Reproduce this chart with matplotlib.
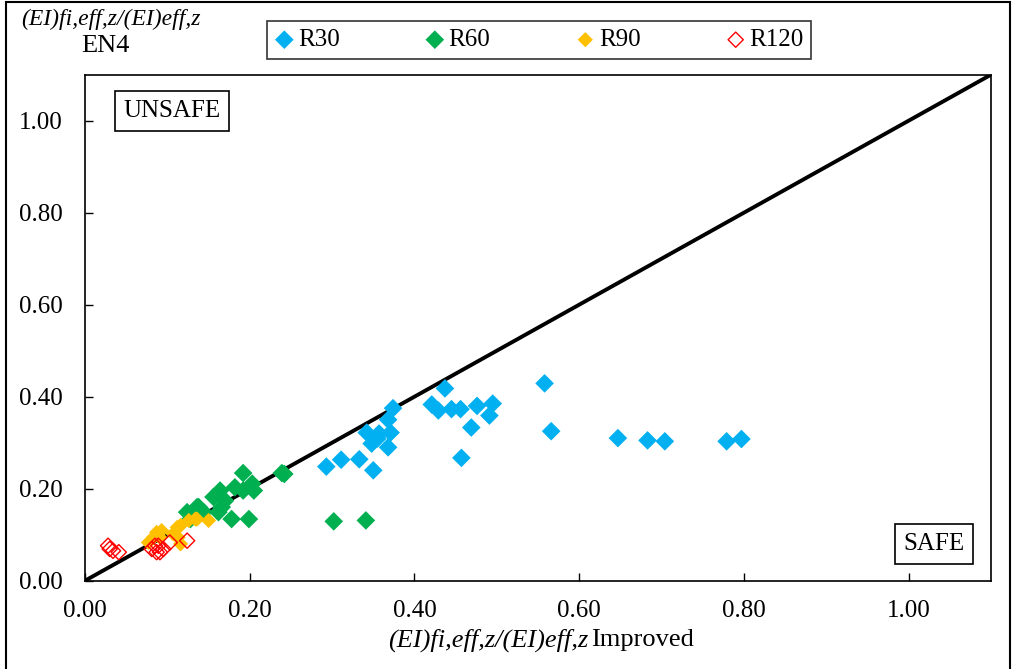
import numpy as np
import matplotlib
matplotlib.use("Agg")
import matplotlib.pyplot as plt
from matplotlib.patches import Rectangle

plt.rcParams['font.family'] = ['Liberation Serif', 'DejaVu Serif']

# R30 points (improved ratio, EN4 ratio)
r30_x = [0.437, 0.374, 0.421, 0.429, 0.445, 0.456, 0.476, 0.495, 0.491, 0.469,
         0.457, 0.558, 0.566, 0.368, 0.342, 0.357, 0.371, 0.355, 0.348, 0.368,
         0.293, 0.311, 0.333, 0.350, 0.647, 0.683, 0.704, 0.779, 0.797]
r30_y = [0.418, 0.375, 0.383, 0.370, 0.373, 0.373, 0.380, 0.385, 0.359, 0.333,
         0.267, 0.429, 0.325, 0.350, 0.322, 0.320, 0.322, 0.309, 0.298, 0.290,
         0.248, 0.263, 0.264, 0.240, 0.310, 0.305, 0.303, 0.303, 0.308]

# R60 points
r60_x = [0.192, 0.239, 0.203, 0.182, 0.164, 0.156, 0.170, 0.162, 0.178, 0.199,
         0.136, 0.124, 0.128, 0.205, 0.192, 0.144, 0.242, 0.302, 0.341, 0.166,
         0.138]
r60_y = [0.234, 0.234, 0.211, 0.203, 0.196, 0.182, 0.174, 0.149, 0.134, 0.134,
         0.160, 0.149, 0.134, 0.196, 0.196, 0.149, 0.232, 0.129, 0.131, 0.160,
         0.160]

# R90 points
r90_x = [0.083, 0.093, 0.077, 0.113, 0.116, 0.126, 0.136, 0.116, 0.107, 0.134,
         0.150, 0.112, 0.087, 0.091]
r90_y = [0.094, 0.109, 0.083, 0.094, 0.120, 0.131, 0.134, 0.080, 0.102, 0.134,
         0.131, 0.116, 0.105, 0.094]

# R120 points
r120_x = [0.028, 0.034, 0.041, 0.030, 0.081, 0.089, 0.095, 0.103, 0.124, 0.087,
          0.085, 0.091]
r120_y = [0.076, 0.065, 0.062, 0.069, 0.069, 0.076, 0.069, 0.083, 0.087, 0.062,
          0.076, 0.062]

ticks = [0.0, 0.2, 0.4, 0.6, 0.8, 1.0]
tick_labels = ['0.00', '0.20', '0.40', '0.60', '0.80', '1.00']

fig = plt.figure(figsize=(10.14, 6.69), dpi=100)
ax = fig.add_axes([85/1014, 1 - 580.7/669, (991 - 85)/1014, (580.7 - 74.7)/669])

ax.plot([0, 1.1], [0, 1.1], color='black', lw=2.8, zorder=1)

ax.scatter(r30_x, r30_y, marker='D', s=90, color='#00B0F0', edgecolors='none', label='R30', zorder=3)
ax.scatter(r60_x, r60_y, marker='D', s=90, color='#00B050', edgecolors='none', label='R60', zorder=3)
ax.scatter(r90_x, r90_y, marker='D', s=60, color='#FFC000', edgecolors='none', label='R90', zorder=4)
ax.scatter(r120_x, r120_y, marker='D', s=60, facecolors='none', edgecolors='#FF0000', linewidths=1.0,
           label='R120', zorder=5)

ax.set_xlim(0, 1.1)
ax.set_ylim(0, 1.1)
ax.set_xticks(ticks)
ax.set_xticklabels(tick_labels)
ax.set_yticks(ticks)
ax.set_yticklabels(tick_labels)
ax.tick_params(direction='in', length=6, width=1, labelsize=18)
ax.tick_params(axis='x', pad=14)
ax.tick_params(axis='y', pad=16)
for sp in ax.spines.values():
    sp.set_linewidth(1.2)

fig.text(172/1014, 1 - 111/669, 'UNSAFE', fontsize=18, ha='center', va='center',
         bbox=dict(boxstyle='square,pad=0.35', facecolor='white', edgecolor='black', lw=1.2))
fig.text(934/1014, 1 - 544/669, 'SAFE', fontsize=18, ha='center', va='center',
         bbox=dict(boxstyle='square,pad=0.35', facecolor='white', edgecolor='black', lw=1.2))

# axis titles
fig.text(588/1014, 1 - 640/669, '(EI)fi,eff,z/(EI)eff,z', fontsize=19, style='italic',
         ha='right', va='center')
fig.text(591/1014, 1 - 640/669, 'Improved', fontsize=19, ha='left', va='center')
fig.text(111/1014, 1 - 19/669, '(EI)fi,eff,z/(EI)eff,z', fontsize=17, style='italic',
         ha='center', va='center')
fig.text(105/1014, 1 - 46/669, 'EN4', fontsize=19, ha='center', va='center')

leg = fig.legend(loc='center', bbox_to_anchor=(539/1014, 1 - 40/669), ncol=4, fontsize=18,
                 frameon=True, fancybox=False, edgecolor='black', handletextpad=0.15,
                 handlelength=0.8, columnspacing=3.4, borderpad=0.3, borderaxespad=0,
                 markerscale=1.0)
leg.get_frame().set_linewidth(1.2)

fig.patches.append(Rectangle((6/1014, -0.02), (1010 - 6)/1014, 1.017, transform=fig.transFigure,
                             fill=False, edgecolor='black', lw=1.5))

fig.savefig('out.png', dpi=100)
